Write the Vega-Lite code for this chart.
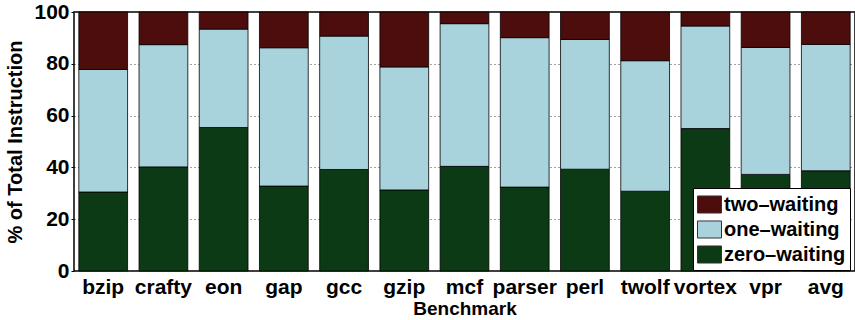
{
  "$schema": "https://vega.github.io/schema/vega-lite/v6.json",
  "width": 781,
  "height": 259,
  "autosize": {"type": "none"},
  "padding": {"left": 74, "top": 12, "right": 0, "bottom": 49},
  "background": "white",
  "config": {
    "font": "Liberation Sans",
    "view": {"stroke": "black", "strokeWidth": 1.5},
    "axis": {"labelFont": "Liberation Sans", "titleFont": "Liberation Sans"}
  },
  "data": {
    "values": [
      {"b": "bzip", "s": "zero–waiting", "v": 30.5}, {"b": "bzip", "s": "one–waiting", "v": 47.3}, {"b": "bzip", "s": "two–waiting", "v": 22.2},
      {"b": "crafty", "s": "zero–waiting", "v": 40.2}, {"b": "crafty", "s": "one–waiting", "v": 47.2}, {"b": "crafty", "s": "two–waiting", "v": 12.6},
      {"b": "eon", "s": "zero–waiting", "v": 55.4}, {"b": "eon", "s": "one–waiting", "v": 38.0}, {"b": "eon", "s": "two–waiting", "v": 6.6},
      {"b": "gap", "s": "zero–waiting", "v": 32.8}, {"b": "gap", "s": "one–waiting", "v": 53.4}, {"b": "gap", "s": "two–waiting", "v": 13.8},
      {"b": "gcc", "s": "zero–waiting", "v": 39.2}, {"b": "gcc", "s": "one–waiting", "v": 51.5}, {"b": "gcc", "s": "two–waiting", "v": 9.3},
      {"b": "gzip", "s": "zero–waiting", "v": 31.3}, {"b": "gzip", "s": "one–waiting", "v": 47.5}, {"b": "gzip", "s": "two–waiting", "v": 21.2},
      {"b": "mcf", "s": "zero–waiting", "v": 40.4}, {"b": "mcf", "s": "one–waiting", "v": 55.1}, {"b": "mcf", "s": "two–waiting", "v": 4.5},
      {"b": "parser", "s": "zero–waiting", "v": 32.4}, {"b": "parser", "s": "one–waiting", "v": 57.7}, {"b": "parser", "s": "two–waiting", "v": 9.9},
      {"b": "perl", "s": "zero–waiting", "v": 39.3}, {"b": "perl", "s": "one–waiting", "v": 50.1}, {"b": "perl", "s": "two–waiting", "v": 10.6},
      {"b": "twolf", "s": "zero–waiting", "v": 30.8}, {"b": "twolf", "s": "one–waiting", "v": 50.4}, {"b": "twolf", "s": "two–waiting", "v": 18.8},
      {"b": "vortex", "s": "zero–waiting", "v": 55.0}, {"b": "vortex", "s": "one–waiting", "v": 39.6}, {"b": "vortex", "s": "two–waiting", "v": 5.4},
      {"b": "vpr", "s": "zero–waiting", "v": 37.3}, {"b": "vpr", "s": "one–waiting", "v": 49.0}, {"b": "vpr", "s": "two–waiting", "v": 13.7},
      {"b": "avg", "s": "zero–waiting", "v": 38.7}, {"b": "avg", "s": "one–waiting", "v": 48.8}, {"b": "avg", "s": "two–waiting", "v": 12.5}
    ]
  },
  "transform": [
    {"calculate": "datum.s === 'zero–waiting' ? 0 : (datum.s === 'one–waiting' ? 1 : 2)", "as": "ord"}
  ],
  "mark": {"type": "bar", "stroke": "black", "strokeWidth": 0.8},
  "encoding": {
    "x": {
      "field": "b", "type": "nominal", "sort": null,
      "scale": {"paddingInner": 0.19, "paddingOuter": 0.08},
      "axis": {
        "title": "Benchmark", "labelAngle": 0, "labelFontSize": 21, "labelFontWeight": "bold",
        "labelColor": "black", "labelPadding": 5, "ticks": false, "domain": false,
        "titleFontSize": 19, "titleFontWeight": "bold", "titleColor": "black", "titlePadding": 2
      }
    },
    "y": {
      "field": "v", "type": "quantitative", "stack": "zero",
      "scale": {"domain": [0, 100], "nice": false},
      "axis": {
        "title": "% of Total Instruction", "values": [0, 20, 40, 60, 80, 100],
        "labelFontSize": 21, "labelFontWeight": "bold", "labelColor": "black", "labelPadding": 2,
        "tickSize": 3, "tickColor": "black", "domain": false,
        "grid": true, "gridColor": "#444", "gridDash": [1, 3], "gridWidth": 1,
        "titleFontSize": 20, "titleFontWeight": "bold", "titleColor": "black", "titlePadding": 8
      }
    },
    "color": {
      "field": "s", "type": "nominal",
      "scale": {"domain": ["two–waiting", "one–waiting", "zero–waiting"], "range": ["#4d0d0c", "#a9d3dc", "#0b3a14"]},
      "legend": {
        "title": null, "orient": "none", "legendX": 619, "legendY": 176,
        "fillColor": "white", "strokeColor": "black", "padding": 4,
        "symbolType": "M-1,-0.71H1V0.71H-1Z", "symbolSize": 576, "symbolStrokeColor": "#333", "symbolStrokeWidth": 1,
        "labelFontSize": 20, "labelFontWeight": "bold", "labelColor": "black", "labelOffset": 2,
        "rowPadding": 1, "labelLimit": 300
      }
    },
    "order": {"field": "ord", "type": "quantitative"}
  }
}
